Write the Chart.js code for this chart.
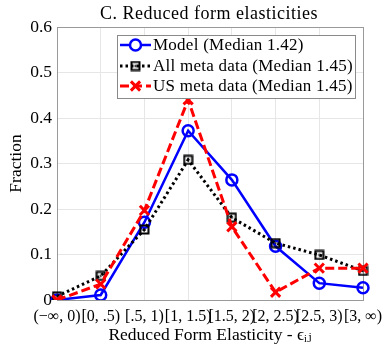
<!DOCTYPE html>
<html>
<head>
<meta charset="utf-8">
<script src="https://cdn.jsdelivr.net/npm/chart.js@4.4.1/dist/chart.umd.min.js"></script>
<style>
  html, body { margin: 0; padding: 0; background: #fff; }
  #wrap { width: 386px; height: 346px; }
</style>
</head>
<body>
<div id="wrap"><canvas id="grafico"></canvas></div>
<script>
// categorias (intervalos de elasticidad)
const categorias = ["(\u2212\u221E, 0)", "[0, .5)", "[.5, 1)", "[1, 1.5)", "[1.5, 2)", "[2, 2.5)", "[2.5, 3)", "[3, \u221E)"];

// series
const modelo = [0.0, 0.011, 0.171, 0.372, 0.264, 0.118, 0.037, 0.027];
const metaTodos = [0.008, 0.053, 0.155, 0.308, 0.181, 0.125, 0.099, 0.064];
const metaUS = [0.0, 0.035, 0.197, 0.44, 0.161, 0.017, 0.07, 0.07];

const etiquetas = ["Model (Median 1.42)", "All meta data (Median 1.45)", "US meta data (Median 1.45)"];
const titulo = "C. Reduced form elasticities";

const FUENTE = "'Liberation Serif', 'DejaVu Serif', serif";

// marcador cuadrado con punto central
function marcadorCuadrado() {
    const c = document.createElement("canvas");
    c.width = 11; c.height = 11;
    const g = c.getContext("2d");
    g.strokeStyle = "#000";
    g.lineWidth = 2;
    g.strokeRect(1.5, 1.5, 8, 8);
    g.fillStyle = "#000";
    g.fillRect(4.5, 4.5, 2, 2);
    return c;
}
const cuadrado = marcadorCuadrado();

// leyenda dentro del area, con borde
const leyendaPlugin = {
    id: "leyendaCaja",
    afterDraw(chart) {
        const ctx = chart.ctx;
        const x0 = 117, y0 = 35, w = 238, h = 63;
        ctx.save();
        ctx.fillStyle = "#fff";
        ctx.fillRect(x0, y0, w, h);
        ctx.strokeStyle = "#8a8a8a";
        ctx.lineWidth = 1;
        ctx.strokeRect(x0 + 0.5, y0 + 0.5, w, h);
        const filas = [45, 66, 86];
        chart.data.datasets.forEach((ds, i) => {
            const y = filas[i];
            ctx.strokeStyle = ds.borderColor;
            ctx.lineWidth = ds.borderWidth;
            ctx.setLineDash(ds.borderDash || []);
            ctx.beginPath();
            ctx.moveTo(120, y);
            ctx.lineTo(151, y);
            ctx.stroke();
            ctx.setLineDash([]);
            Chart.helpers.drawPoint(ctx, {
                pointStyle: ds.pointStyle,
                radius: ds.pointRadius,
                borderWidth: ds.pointBorderWidth
            }, 135.5, y);
            ctx.fillStyle = "#000";
            ctx.font = "17px " + FUENTE;
            ctx.letterSpacing = "0.25px";
            ctx.textBaseline = "middle";
            ctx.textAlign = "left";
            ctx.fillText(etiquetas[i], 153, y + 1);
        });
        // titulo
        ctx.fillStyle = "#000";
        ctx.font = "18px " + FUENTE;
        ctx.letterSpacing = "0.5px";
        ctx.textAlign = "center";
        ctx.textBaseline = "middle";
        ctx.fillText(titulo, 209, 14);
        ctx.restore();
    }
};

// caja alrededor del area del grafico
const cajaPlugin = {
    id: "caja",
    beforeDatasetsDraw(chart) {
        const a = chart.chartArea;
        const ctx = chart.ctx;
        ctx.save();
        ctx.strokeStyle = "#9a9a9a";
        ctx.lineWidth = 1;
        ctx.strokeRect(Math.round(a.left) + 0.5, Math.round(a.top) + 0.5, Math.round(a.right - a.left), Math.round(a.bottom - a.top));
        ctx.restore();
    }
};

const ctx = document.getElementById("grafico").getContext("2d");
const chart = new Chart(ctx, {
    type: "line",
    data: {
        labels: categorias,
        datasets: [
            {
                label: etiquetas[0],
                data: modelo,
                borderColor: "#0000ff",
                backgroundColor: "rgba(0,0,0,0)",
                borderWidth: 2.5,
                pointStyle: "circle",
                pointRadius: 5.5,
                pointBorderWidth: 2.5,
                pointBorderColor: "#0000ff",
                pointBackgroundColor: "rgba(0,0,0,0)",
                order: 3
            },
            {
                label: etiquetas[1],
                data: metaTodos,
                borderColor: "#000000",
                backgroundColor: "rgba(0,0,0,0)",
                borderWidth: 3,
                borderDash: [2.5, 3],
                pointStyle: cuadrado,
                pointRadius: 5,
                pointBorderWidth: 2,
                order: 2
            },
            {
                label: etiquetas[2],
                data: metaUS,
                borderColor: "#ff0000",
                backgroundColor: "rgba(0,0,0,0)",
                borderWidth: 3,
                borderDash: [9, 4],
                pointStyle: "crossRot",
                pointRadius: 6.5,
                pointBorderWidth: 3,
                pointBorderColor: "#ff0000",
                order: 1
            }
        ]
    },
    options: {
        responsive: true,
        maintainAspectRatio: false,
        animation: false,
        layout: { padding: { top: 27, right: 23, left: 0, bottom: 0 } },
        plugins: {
            legend: { display: false },
            title: { display: false },
            tooltip: { enabled: false }
        },
        scales: {
            x: {
                offset: false,
                grid: { color: "#e6e6e6", drawTicks: false },
                border: { display: false },
                ticks: { color: "#000", font: { family: FUENTE, size: 16 }, maxRotation: 0, autoSkip: false, padding: 7 },
                title: { display: true, text: "Reduced Form Elasticity - \u03F5\u1D62\u2C7C", color: "#000", font: { family: FUENTE, size: 17.5 }, padding: { top: 3, bottom: 0 } },
                afterFit(scale) { scale.height = 46; scale.paddingLeft = 0; scale.paddingRight = 0; }
            },
            y: {
                min: 0,
                max: 0.6,
                grid: { color: "#e6e6e6", drawTicks: false },
                border: { display: false },
                ticks: {
                    stepSize: 0.1,
                    color: "#000",
                    font: { family: FUENTE, size: 17.5 },
                    padding: 5,
                    callback: v => v === 0 ? "0" : v.toFixed(1)
                },
                title: { display: true, text: "Fraction", color: "#000", font: { family: FUENTE, size: 17.5 }, padding: { top: 6, bottom: 0 } },
                afterFit(scale) { scale.width = 57; }
            }
        }
    },
    plugins: [cajaPlugin, leyendaPlugin]
});
</script>
</body>
</html>
